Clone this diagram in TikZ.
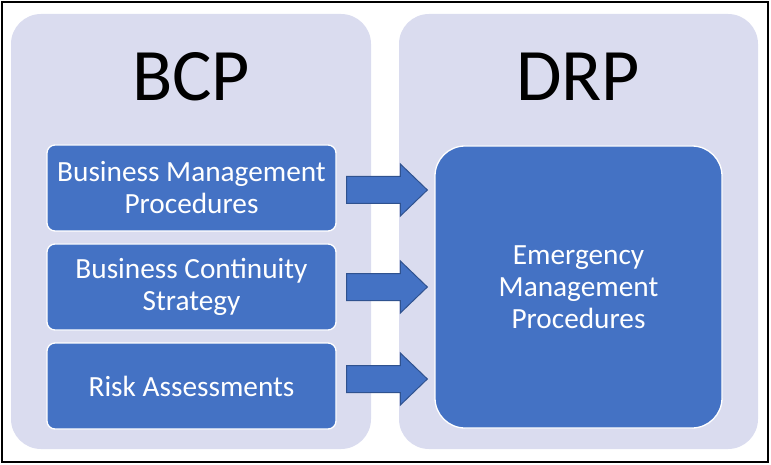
\documentclass[tikz,border=0pt]{standalone}
\usepackage{fontspec}
\setmainfont{Carlito}
\usetikzlibrary{calc}
\definecolor{panelfill}{HTML}{DADCEF}
\definecolor{boxfill}{HTML}{4472C4}
\definecolor{arrowline}{HTML}{2F528F}
\tikzset{
  kpanel/.style={fill=panelfill, draw=none, rounded corners=30pt},
  ktitle/.style={font=\fontsize{74}{80}\selectfont, text=black, inner sep=0pt},
  kbox/.style={draw=white, line width=1.3pt, fill=boxfill, rounded corners=8pt, align=center,
    text=white, font=\fontsize{29.3}{32}\selectfont, minimum width=289pt, minimum height=86pt, inner sep=0pt},
  kbig/.style={kbox, rounded corners=30pt, minimum width=287pt, minimum height=282pt},
  blockarrow/.style={fill=boxfill, draw=arrowline, line width=1pt, line join=miter},
}
\begin{document}
\begin{tikzpicture}[x=1pt, y=-1pt]
  \useasboundingbox (0,0) rectangle (771,465);
  \draw[line width=1.5pt] (2,2) rectangle (768,462);
  % panels
  \fill[kpanel] (11,14) rectangle (371,449);
  \fill[kpanel] (399,14) rectangle (758,449);
  \node[ktitle] (bcp) at (191,77) {BCP};
  \node[ktitle] (drp) at (578,77) {DRP};
  % boxes
  \node[kbox] (bmp) at (191.5,188) {Business Management\\Procedures};
  \node[kbox] (bcs) at (191.5,287) {Business Continuity\\Strategy};
  \node[kbox] (risk) at (191.5,386) {Risk Assessments};
  \node[kbig] (emp) at (578.5,287) {Emergency\\Management\\Procedures};
  % block arrows
  \foreach \src/\ya in {bmp/190, bcs/287, risk/379} {
    \coordinate (tail) at ($(\src.east |- 0,\ya)+(10,0)$);
    \coordinate (tip) at ($(emp.west |- 0,\ya)+(-7,0)$);
    \draw[blockarrow] ($(tail)+(0,-13.5)$) -- ($(tip)+(-27,-13.5)$) -- ($(tip)+(-27,-26)$) -- (tip)
      -- ($(tip)+(-27,26)$) -- ($(tip)+(-27,13.5)$) -- ($(tail)+(0,13.5)$) -- cycle;
  }
\end{tikzpicture}
\end{document}
